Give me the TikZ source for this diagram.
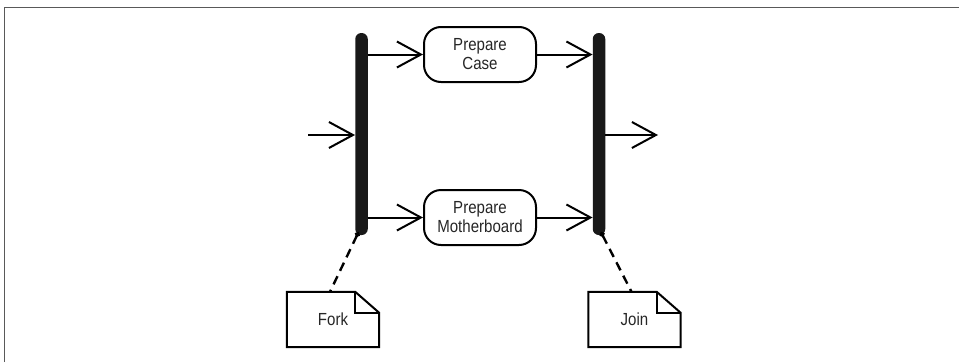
\documentclass[tikz,border=0pt]{standalone}
\usepackage{fontspec}
\setmainfont{Liberation Sans}[FakeStretch=0.86]
\usepackage{tikz}
\usetikzlibrary{arrows.meta,positioning}

\begin{document}
\begin{tikzpicture}[
    x=1pt, y=-1pt,
    node distance=106pt,
    action/.style={draw, line width=2pt, rounded corners=17pt, align=center,
        minimum width=112pt, minimum height=55pt, inner sep=0pt,
        font=\fontsize{17.5}{19}\selectfont, text=black!85},
    bar/.style={fill=black!90, draw=none, rounded corners=6pt,
        minimum width=12.5pt, minimum height=202pt, inner sep=0pt},
    note/.style={minimum width=92pt, minimum height=55pt, inner sep=0pt,
        font=\fontsize{17.5}{19}\selectfont, text=black!85},
    arrow/.style={-{Straight Barb[length=24pt, width=26pt, line width=2pt]}, line width=2pt},
    anchorline/.style={{Circle[length=5pt]}-, line width=2.4pt, dash pattern=on 9pt off 6pt}
]
% frame
\useasboundingbox (0,0) rectangle (959,362);
\draw[black!65, line width=1.6pt] (4.5,362) -- (4.5,7.5) -- (959,7.5);

% fork and join bars
\node[bar] (fork) at (361.5,134) {};
\node[bar] (join) at (599,134) {};

% parallel actions
\node[action] (case) at (480,54.5) {Prepare\\Case};
\node[action, below=of case] (board) {Prepare\\Motherboard};

% flow
\coordinate (entry) at (308,135);
\coordinate (exit) at (658,135);
\draw[arrow] (entry) -- (entry -| fork.west);
\draw[arrow] (fork.east |- case) -- (case);
\draw[arrow] (fork.east |- board) -- (board);
\draw[arrow] (case) -- (case -| join.west);
\draw[arrow] (board) -- (board -| join.west);
\draw[arrow] (join.east |- exit) -- (exit);

% notes with folded corner
\node[note] (forknote) at (333,319.5) {Fork};
\node[note] (joinnote) at (634.5,319.5) {Join};
\foreach \n in {forknote,joinnote} {
  \draw[line width=2pt, line join=miter]
    (\n.north west) -- ([xshift=-24pt]\n.north east)
    -- ([yshift=-21pt]\n.north east) -- (\n.south east)
    -- (\n.south west) -- cycle;
  \draw[line width=2pt]
    ([xshift=-24pt]\n.north east) -- ([xshift=-24pt, yshift=-21pt]\n.north east)
    -- ([yshift=-21pt]\n.north east);
}
\draw[anchorline] ([xshift=-3pt, yshift=3pt]fork.south) -- ([xshift=-3pt]forknote.north);
\draw[anchorline] ([xshift=2pt, yshift=3pt]join.south) -- ([xshift=-3pt]joinnote.north);
\end{tikzpicture}
\end{document}
